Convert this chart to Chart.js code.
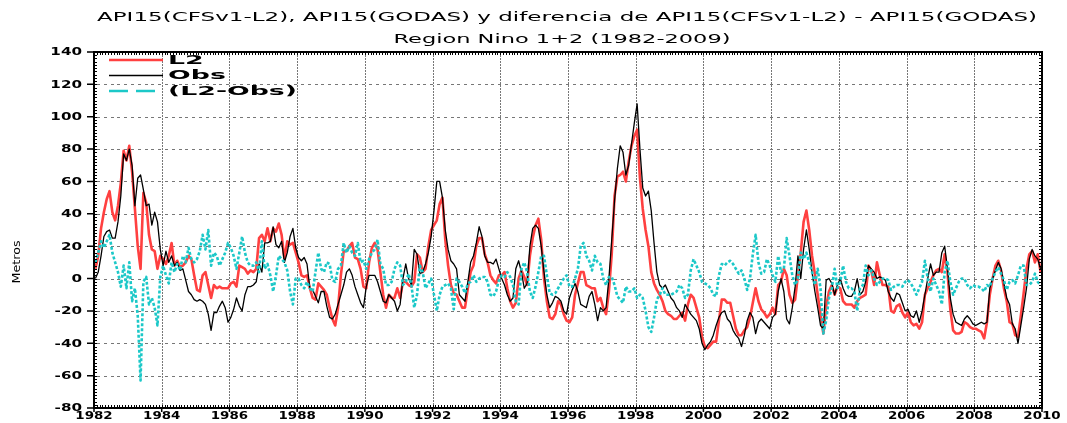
<!DOCTYPE html>
<html>
<head>
<meta charset="utf-8">
<script src="https://cdn.jsdelivr.net/npm/chart.js@4.4.0/dist/chart.umd.min.js"></script>
<style>
  html, body { margin: 0; padding: 0; background: #fff; }
</style>
</head>
<body>
<canvas id="chart" width="1067" height="423"></canvas>
<script>
// titles / labels
const titleLines = [
  'API15(CFSv1-L2), API15(GODAS) y diferencia de API15(CFSv1-L2) - API15(GODAS)',
  'Region Nino 1+2 (1982-2009)'
];
const yAxisLabel = 'Metros';
const seriesLabels = ['L2', 'Obs', '(L2-Obs)'];

// axes
const firstYear = 1982;
const lastYear = 2010;
const yMin = -80;
const yMax = 140;
const xStep = 2;
const yStep = 20;

// monthly values, one row per year (1982..2009)
const l2 = [
  6, 14, 31, 41, 49, 54, 41, 36, 45, 59, 79, 73,
  82, 66, 43, 20, 6, 53, 47, 27, 18, 17, 6, 14,
  12, 9, 14, 22, 8, 11, 7, 8, 10, 14, 12, 2,
  -7, -8, 2, 4, -4, -12, -4, -6, -5, -6, -6, -6,
  -3, -2, -5, 8, 7, 6, 3, 5, 4, 6, 25, 27,
  23, 31, 23, 31, 29, 34, 27, 12, 23, 21, 22, 16,
  10, 2, 1, 2, -6, -12, -13, -3, -5, -7, -10, -18,
  -25, -29, -18, 2, 17, 17, 20, 22, 13, 12, 6, -5,
  -6, 10, 19, 22, 18, 4, -10, -18, -10, -12, -12, -6,
  -12, -2, -2, -4, -5, -2, 15, 13, 4, 6, 20, 30,
  33, 36, 46, 50, 24, 8, -4, -9, -10, -14, -18, -18,
  -6, 4, 8, 20, 25, 25, 15, 10, 2, -1, -3, 2,
  2, 4, -6, -14, -18, -15, 0, 5, 1, -4, 14, 25,
  33, 37, 24, 0, -14, -24, -25, -22, -14, -16, -22, -26,
  -27, -24, -10, -3, 4, 4, -4, -5, -6, -6, -14, -12,
  -18, -22, -8, 15, 51, 63, 64, 66, 60, 72, 82, 88,
  92, 62, 43, 30, 20, 4, -3, -7, -10, -14, -20, -22,
  -23, -25, -25, -23, -21, -26, -16, -10, -12, -18, -24, -36,
  -42, -43, -41, -39, -39, -26, -13, -13, -15, -15, -23, -31,
  -35, -35, -32, -30, -24, -15, -6, -14, -19, -21, -24, -22,
  -18, -22, -4, -2, 6, 2, -10, -15, -13, 2, 16, 35,
  42, 30, 14, 3, -10, -22, -34, -17, -8, -4, -10, -5,
  -6, -14, -16, -16, -16, -18, -14, -12, -11, -10, 8, 5,
  -4, 10, 2, -4, -4, -5, -20, -21, -17, -16, -21, -24,
  -21, -27, -29, -28, -31, -27, -10, -6, -2, 2, 5, 6,
  4, 15, 4, -19, -32, -34, -34, -33, -27, -28, -30, -31,
  -31, -32, -33, -37, -27, -10, 0, 8, 11, 5, -6, -14,
  -27, -28, -35, -36, -23, -9, 6, 15, 17, 10, 15, 4
];

const obs = [
  0, 4, 14, 26, 29, 30, 25, 25, 35, 51, 77, 73,
  80, 70, 45, 62, 64, 55, 45, 46, 33, 41, 35, 18,
  8, 17, 10, 14, 8, 10, 5, 6, -1, -8, -10, -13,
  -14, -13, -14, -16, -22, -32, -21, -21, -17, -14, -18, -27,
  -24, -19, -12, -17, -20, -10, -5, -5, -4, -2, 9, 4,
  22, 22, 23, 32, 21, 19, 23, 10, 16, 26, 31, 19,
  13, 11, 13, 9, -6, -7, -11, -15, -8, -8, -17, -24,
  -25, -22, -16, -10, -4, 4, 6, 2, -5, -10, -15, -18,
  -5, 2, 2, 2, -2, -8, -14, -15, -10, -12, -14, -20,
  -16, 0, 9, 0, -4, 18, 15, 3, 4, 9, 16, 26,
  42, 60, 60, 50, 30, 18, 11, 9, 6, -10, -12, -14,
  -2, 10, 14, 22, 32, 26, 14, 10, 10, 9, 12, 6,
  0, -4, -10, -14, -12, 6, 11, 4, -6, -3, 20, 31,
  33, 31, 20, 4, -10, -18, -15, -11, -12, -14, -20, -22,
  -12, -7, -3, -8, -16, -17, -18, -11, -8, -16, -26, -18,
  -20, -18, 0, 24, 48, 68, 82, 78, 64, 70, 83, 96,
  108, 80, 56, 51, 54, 42, 22, 4, -4, -6, -4, -8,
  -12, -14, -18, -20, -24, -16, -19, -22, -24, -26, -31, -40,
  -44, -41, -39, -35, -29, -24, -21, -20, -25, -27, -32, -35,
  -37, -42, -35, -26, -21, -24, -34, -27, -25, -27, -29, -31,
  -24, -22, -8, 0, -8, -25, -28, -18, -5, 14, 0, 18,
  30, 18, 4, -8, -18, -29, -31, -1, 0, -3, -10, -4,
  0, -6, -10, -11, -11, -8, 0, -10, -8, -2, 8, 6,
  4, 0, 1, 0, -1, -8, -12, -14, -9, -10, -15, -20,
  -19, -23, -24, -20, -27, -20, -10, 0, 9, 2, 4, 4,
  16, 20, 6, -12, -22, -27, -28, -29, -25, -23, -25, -28,
  -29, -28, -27, -28, -27, -6, 0, 5, 10, 6, -3, -12,
  -16, -28, -31, -40, -29, -18, -6, 12, 18, 14, 12, 6
];

const diff = [
  10, 16, 23, 19, 23, 27, 16, 10, 4, -5, 8, -6,
  10, -14, -6, -23, -63, -2, 1, -16, -12, -18, -29, 1,
  8, 2, -3, 10, 4, 9, 5, 14, 10, 19, 12, 10,
  12, 17, 27, 18, 30, 8, 16, 14, 8, 12, 16, 22,
  19, 14, 6, 16, 26, 16, 10, 8, 8, 10, 4, 23,
  6, 9, 2, -8, 2, 14, 12, 10, 5, -8, -16, 0,
  0, -4, -6, -2, -6, -8, 4, 16, 6, 4, 10, 9,
  -1, -2, 6, 8, 22, 16, 20, 16, 14, 22, 10, 11,
  6, 12, 16, 18, 24, 9, 6, -4, -4, -2, 6, 10,
  8, -4, -2, 3, -4, -18, -10, 8, 4, -6, -3, 0,
  -10, -20, -10, -5, -4, -3, -6, -19, 0, -2, -5, -9,
  -3, -2, 2, -2, 0, 1, 1, -2, -10, -11, -8, -1,
  2, 1, 4, 1, -4, -14, -16, 6, 10, 4, -8, -12,
  -5, 4, 14, 14, 2, -9, -10, -9, -6, -3, 0, 2,
  -5, -5, 0, 6, 20, 22, 14, 11, 5, 14, 10, 9,
  0, -4, 1, 1, -4, -11, -13, -15, -5, -8, -8, -6,
  -12, -10, -12, -20, -30, -33, -24, -13, -10, -6, -10, -10,
  -10, -9, -8, -4, -6, -12, -10, 5, 12, 8, 4, -2,
  -3, -4, -6, -10, -11, 2, 9, 8, 10, 11, 9, 6,
  3, 5, 0, -7, 0, 15, 27, 10, 3, 4, 12, 8,
  2, -2, 14, 4, 6, 25, 14, 2, -4, 0, 16, 12,
  16, 10, 4, -4, 6, -6, -34, -26, -12, -6, 6, -6,
  -2, 8, -2, -6, -6, -8, -20, -6, -4, 8, 2, 5,
  0, -4, -2, 0, 0, -1, -7, -5, -4, -4, -5, -2,
  -1, -3, -6, -10, -6, -2, 11, 0, -8, 0, -4, -8,
  -16, 4, 11, -2, -10, -6, -2, 0, 0, -4, -6, -4,
  -5, -5, -6, -8, -4, -5, 0, 4, 7, 3, -1, -7,
  -2, -1, -3, 2, 8, 8, -4, -4, -2, 3, -2, -4
];

const toPoints = (vals) => vals.map((v, i) => ({ x: firstYear + (i + 0.5) / 12, y: v }));

const FONT = '"DejaVu Sans", sans-serif';

// draws text stretched horizontally (GrADS fonts are very wide)
function wideText(ctx, text, x, y, font, sx, align) {
  ctx.save();
  ctx.font = font;
  ctx.textBaseline = 'middle';
  ctx.textAlign = align;
  ctx.translate(x, y);
  ctx.scale(sx, 1);
  ctx.fillText(text, 0, 0);
  ctx.restore();
}

function fitScale(ctx, text, font, width) {
  ctx.save();
  ctx.font = font;
  const w = ctx.measureText(text).width;
  ctx.restore();
  return width / w;
}

const decor = {
  id: 'decor',
  beforeDraw(chart) {
    const ctx = chart.ctx;
    ctx.save();
    ctx.fillStyle = '#fff';
    ctx.fillRect(0, 0, chart.width, chart.height);
    ctx.restore();
  },
  beforeDatasetsDraw(chart) {
    // dotted grey grid, one line per labelled tick
    const { ctx, chartArea: a } = chart;
    const x = chart.scales.x, y = chart.scales.y;
    ctx.save();
    ctx.fillStyle = '#777777';
    x.ticks.forEach(t => {
      if (t.value <= firstYear || t.value >= lastYear) return;
      const px = Math.round(x.getPixelForValue(t.value));
      for (let py = Math.round(a.top); py < a.bottom; py += 3) ctx.fillRect(px, py, 1, 2);
    });
    y.ticks.forEach(t => {
      if (t.value <= yMin || t.value >= yMax) return;
      const py = Math.round(y.getPixelForValue(t.value));
      for (let px = Math.round(a.left) + 3; px < a.right; px += 6.8) ctx.fillRect(Math.round(px), py, 3, 1);
    });
    ctx.restore();
  },
  afterDraw(chart) {
    const { ctx, chartArea: a } = chart;
    const x = chart.scales.x, y = chart.scales.y;
    ctx.save();
    ctx.strokeStyle = '#000';
    ctx.fillStyle = '#000';

    // minor ticks
    ctx.lineWidth = 1;
    ctx.beginPath();
    for (let v = yMin; v <= yMax; v += 2) {
      const py = Math.round(y.getPixelForValue(v)) + 0.5;
      ctx.moveTo(a.left, py); ctx.lineTo(a.left + 3, py);
      ctx.moveTo(a.right, py); ctx.lineTo(a.right - 3, py);
    }
    for (let m = 0; m <= (lastYear - firstYear) * 12; m++) {
      const px = Math.round(x.getPixelForValue(firstYear + m / 12)) + 0.5;
      ctx.moveTo(px, a.top); ctx.lineTo(px, a.top + 3);
      ctx.moveTo(px, a.bottom); ctx.lineTo(px, a.bottom - 3);
    }
    ctx.stroke();

    // major ticks
    ctx.lineWidth = 1.5;
    ctx.beginPath();
    y.ticks.forEach(t => {
      const py = y.getPixelForValue(t.value);
      ctx.moveTo(a.left - 7, py); ctx.lineTo(a.left, py);
    });
    x.ticks.forEach(t => {
      const px = x.getPixelForValue(t.value);
      ctx.moveTo(px, a.bottom); ctx.lineTo(px, a.bottom + 4);
    });
    ctx.stroke();

    // frame
    ctx.lineWidth = 2;
    ctx.strokeRect(a.left, a.top, a.right - a.left, a.bottom - a.top);

    // tick labels
    const tickFont = 'bold 11px ' + FONT;
    y.ticks.forEach(t => {
      wideText(ctx, String(t.value), a.left - 12, y.getPixelForValue(t.value) + 0.5, tickFont, 1.38, 'right');
    });
    x.ticks.forEach(t => {
      wideText(ctx, String(t.value), x.getPixelForValue(t.value), 416, tickFont, 1.22, 'center');
    });

    // axis title
    ctx.save();
    ctx.translate(17, 262);
    ctx.rotate(-Math.PI / 2);
    const mf = '11px ' + FONT;
    wideText(ctx, yAxisLabel, 0, 0, mf, fitScale(ctx, yAxisLabel, mf, 43), 'center');
    ctx.restore();

    // titles
    const tf = '12px ' + FONT;
    wideText(ctx, titleLines[0], 567, 18, tf, fitScale(ctx, titleLines[0], tf, 940), 'center');
    wideText(ctx, titleLines[1], 562, 40, tf, fitScale(ctx, titleLines[1], tf, 337), 'center');

    // legend
    const lf = 'bold 13px ' + FONT;
    const ls = fitScale(ctx, seriesLabels[2], lf, 129);
    const rows = [60, 75.5, 91];
    chart.data.datasets.forEach((ds, i) => {
      ctx.save();
      ctx.strokeStyle = ds.borderColor;
      ctx.lineWidth = ds.borderWidth;
      ctx.setLineDash(i === 2 ? [19, 8] : []);
      ctx.beginPath();
      ctx.moveTo(109, rows[i]); ctx.lineTo(163, rows[i]);
      ctx.stroke();
      ctx.restore();
      wideText(ctx, ds.label, 168, rows[i] + 0.5, lf, ls, 'left');
    });

    ctx.restore();
  }
};

new Chart(document.getElementById('chart'), {
  type: 'line',
  data: {
    datasets: [
      { label: seriesLabels[0], data: toPoints(l2), borderColor: '#ff4040', borderWidth: 2.6, order: 2 },
      { label: seriesLabels[1], data: toPoints(obs), borderColor: '#000000', borderWidth: 1.3, order: 1 },
      { label: seriesLabels[2], data: toPoints(diff), borderColor: '#1cc8c8', borderWidth: 2.6, borderDash: [3, 2], order: 0 }
    ]
  },
  options: {
    responsive: false,
    animation: false,
    layout: { padding: { left: 94, right: 25, top: 52, bottom: 15 } },
    elements: { point: { radius: 0 }, line: { tension: 0, borderJoinStyle: 'round' } },
    plugins: { legend: { display: false }, title: { display: false }, tooltip: { enabled: false } },
    scales: {
      x: {
        type: 'linear', min: firstYear, max: lastYear,
        ticks: { display: false, stepSize: xStep },
        grid: { display: false },
        border: { display: false },
        afterFit: (s) => { s.height = 0; }
      },
      y: {
        min: yMin, max: yMax,
        ticks: { display: false, stepSize: yStep },
        grid: { display: false },
        border: { display: false },
        afterFit: (s) => { s.width = 0; }
      }
    }
  },
  plugins: [decor]
});
</script>
</body>
</html>
